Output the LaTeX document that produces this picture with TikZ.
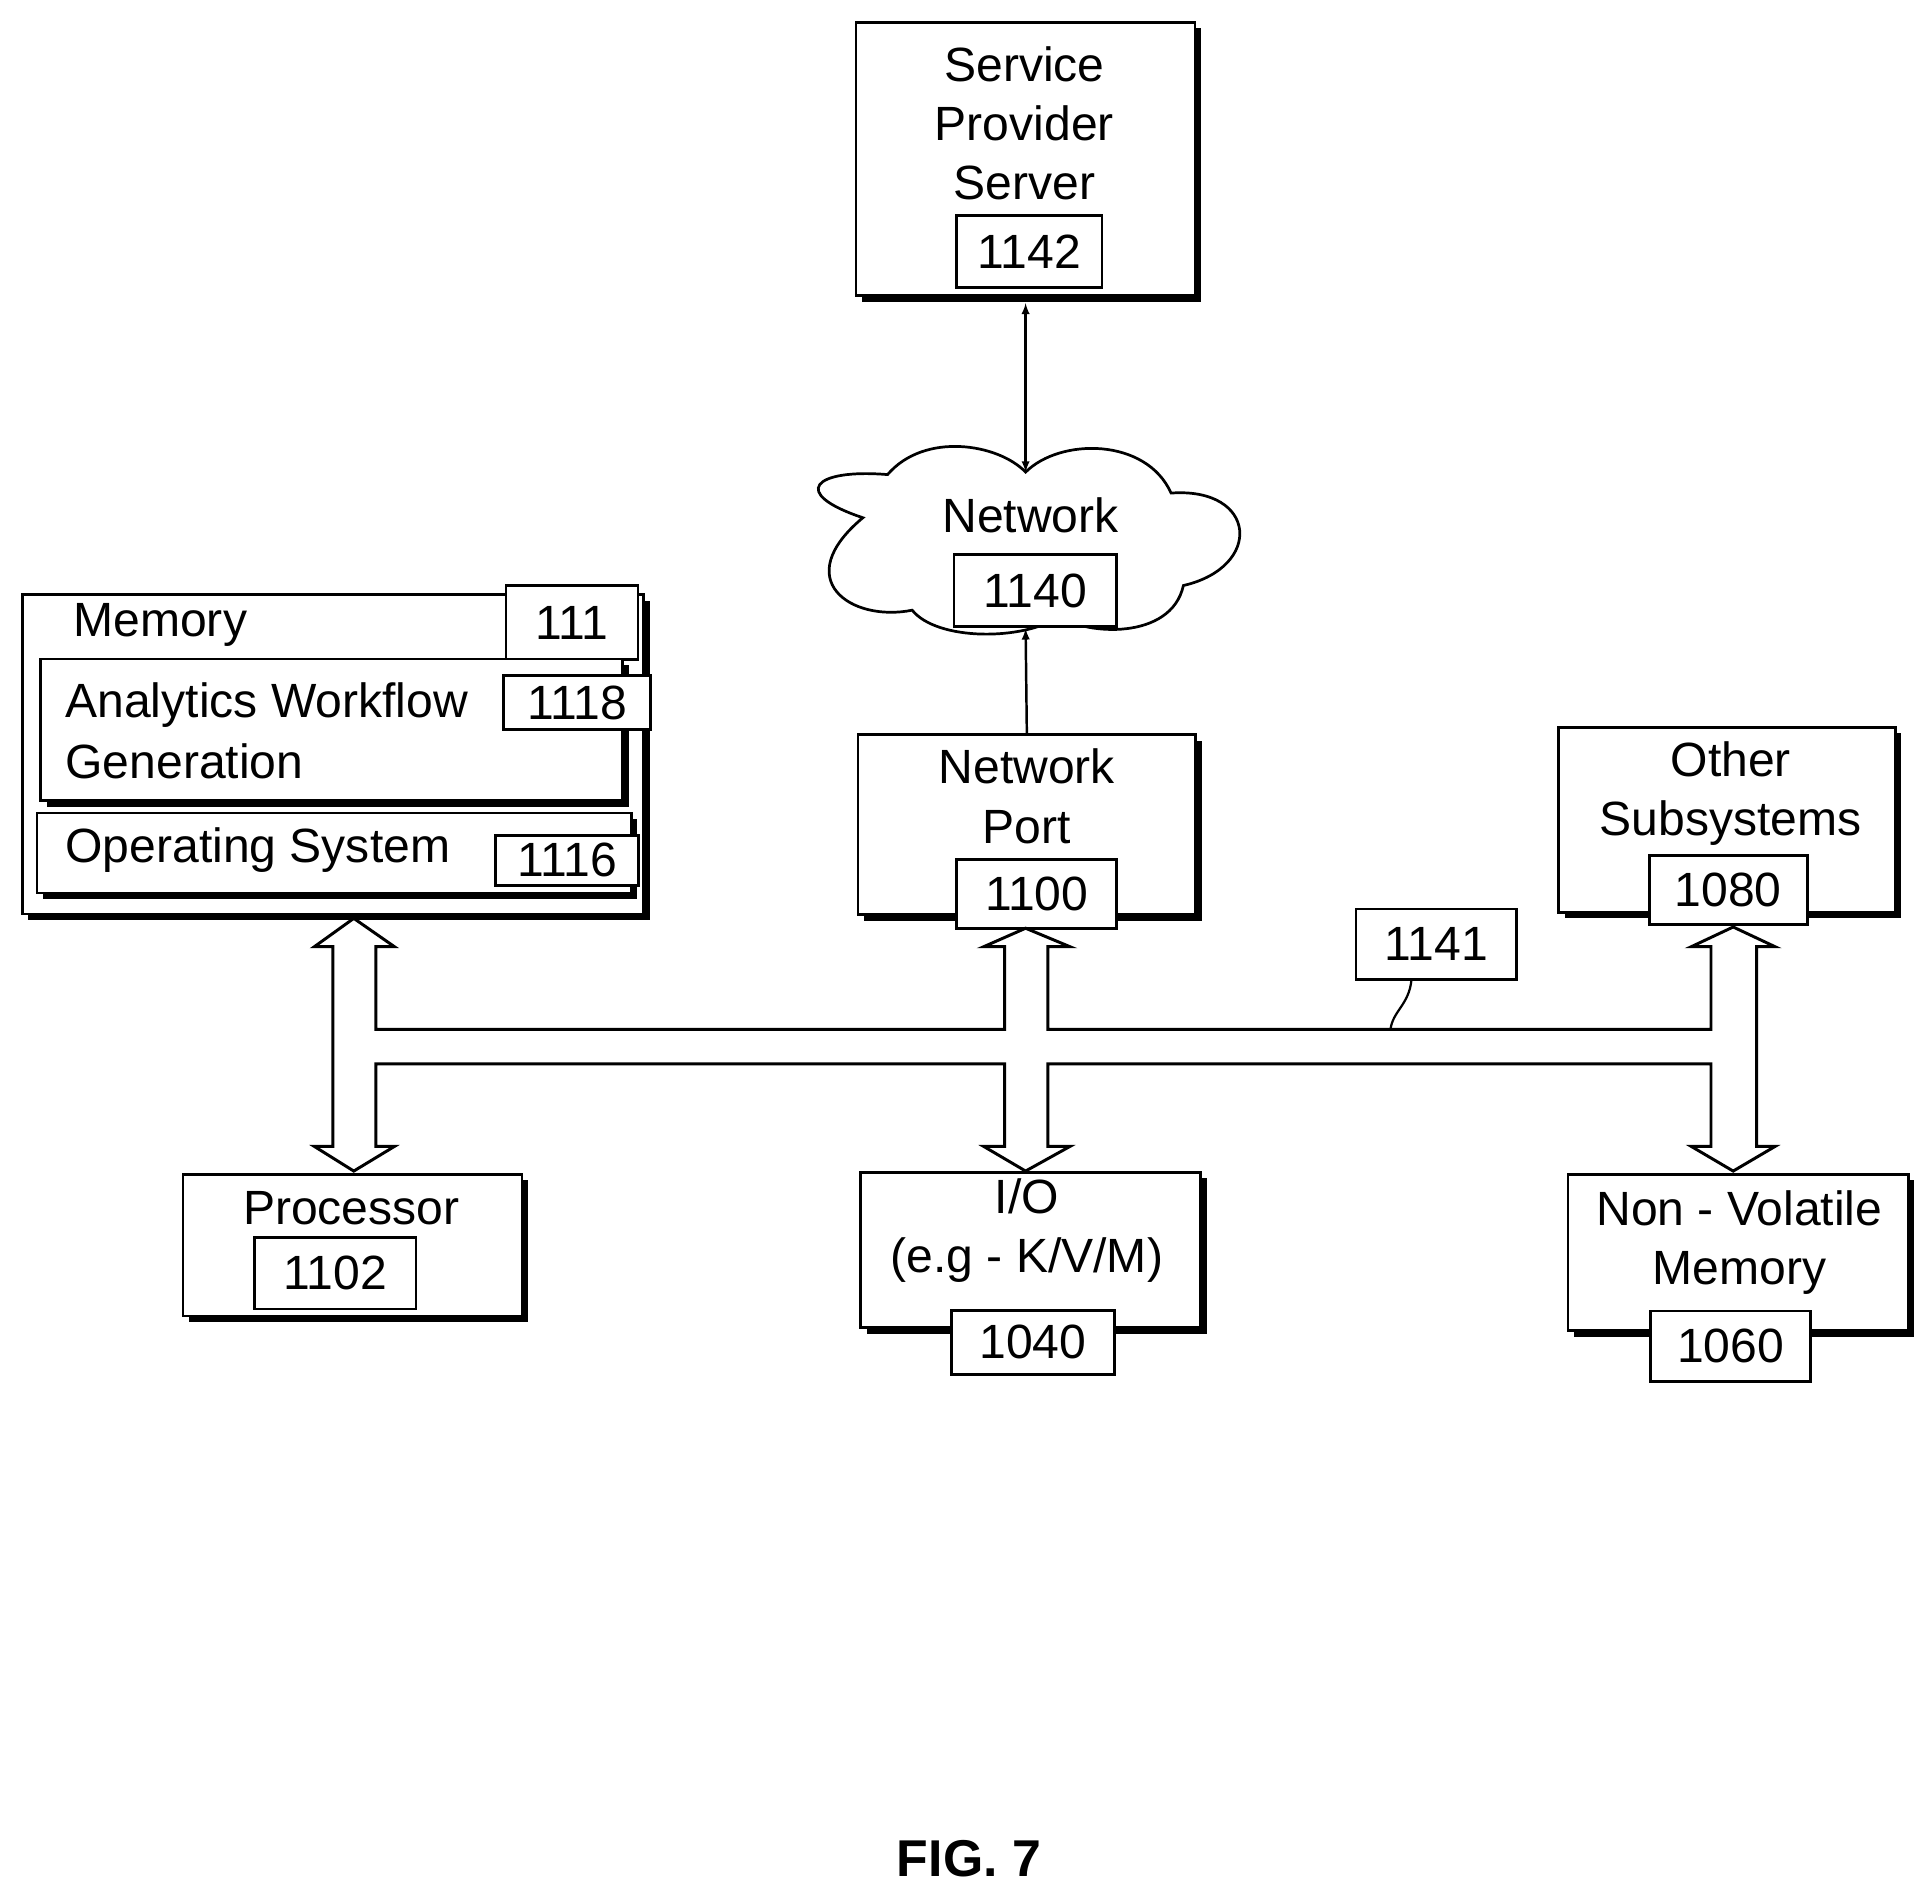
\documentclass[tikz,border=0pt]{standalone}
\usepackage{fontspec}
\setmainfont{Liberation Sans}
\usetikzlibrary{shadows}
\begin{document}
\begin{tikzpicture}[x=1pt,y=-1pt,line width=2.2pt,
  box/.style={draw,fill=white,inner sep=0pt,drop shadow={shadow xshift=5pt,shadow yshift=-5pt,fill=black,opacity=1}},
  nbox/.style={draw,fill=white,inner sep=0pt},
  txt/.style={font=\fontsize{39}{44}\selectfont,inner sep=0pt},
  arr/.style={-latex,line width=2pt}]
\useasboundingbox (0,0) rectangle (1560,1536);
% Server
\node[box,minimum width=275pt,minimum height=222pt] (srv) at (832,129) {};
\node[txt,align=center] (srvt) at (831,100) {Service\\[4pt]Provider\\[4pt]Server};
\node[nbox,txt,minimum width=118pt,minimum height=58pt] (n1142) at (835,204) {1142};
% Network cloud
\draw[fill=white] (700,420) .. controls (640,400) and (660,380) .. (720,385)
  .. controls (750,350) and (810,360) .. (832,383)
  .. controls (860,355) and (930,355) .. (950,400)
  .. controls (1020,395) and (1025,460) .. (960,475)
  .. controls (950,520) and (880,515) .. (860,500)
  .. controls (830,520) and (760,520) .. (740,495)
  .. controls (690,505) and (640,470) .. (700,420) -- cycle;
\coordinate (cloudtop) at (832,383);
\coordinate (cloudbot) at (832,510);
\node[txt] (nett) at (836,418) {Network};
\node[nbox,txt,minimum width=132pt,minimum height=58pt] (n1140) at (840,479) {1140};
\draw[latex-latex,line width=2pt] (832,246) -- (cloudtop);
% Network port
\node[box,minimum width=274pt,minimum height=146pt] (np) at (833,669) {};
\node[txt,align=center] (npt) at (833,646) {Network\\[4pt]Port};
\node[nbox,txt,minimum width=130pt,minimum height=56pt] (n1100) at (841,725) {1100};
\draw[arr] (np.north) -- (cloudbot);
% Other subsystems
\node[box,minimum width=273pt,minimum height=150pt] (os) at (1401,665) {};
\node[txt,align=center] (ost) at (1404,644) {Other\\[4pt]Subsystems};
\node[nbox,txt,minimum width=128pt,minimum height=56pt] (n1080) at (1402,722) {1080};
% Memory
\node[box,minimum width=504pt,minimum height=259pt] (mem) at (270,612) {};
\node[txt] (memt) at (130,507) {Memory};
\node[nbox,txt,minimum width=107pt,minimum height=60pt] (n111) at (464,505) {111};
\node[box,minimum width=472pt,minimum height=115pt] (awg) at (269,592) {};
\node[txt,align=left,anchor=west] (awgt) at (52,593) {Analytics Workflow\\[6pt]Generation};
\node[nbox,txt,minimum width=119pt,minimum height=44pt] (n1118) at (468,570) {1118};
\node[box,minimum width=482pt,minimum height=65pt] (osys) at (271,692) {};
\node[txt,anchor=west] (osyst) at (52,690) {Operating System};
\node[nbox,txt,minimum width=116pt,minimum height=41pt] (n1116) at (460,698) {1116};
% Processor
\node[box,minimum width=275pt,minimum height=115pt] (proc) at (286,1010) {};
\node[txt] (proct) at (285,980) {Processor};
\node[nbox,txt,minimum width=131pt,minimum height=58pt] (n1102) at (272,1033) {1102};
% I/O
\node[box,minimum width=276pt,minimum height=126pt] (io) at (836,1014) {};
\node[txt,align=center] (iot) at (833,998) {I/O\\[4pt](e.g - K/V/M)};
\node[nbox,txt,minimum width=132pt,minimum height=52pt] (n1040) at (838,1089) {1040};
% NVM
\node[box,minimum width=276pt,minimum height=127pt] (nvm) at (1410,1016) {};
\node[txt,align=center] (nvmt) at (1411,1008) {Non - Volatile\\[4pt]Memory};
\node[nbox,txt,minimum width=130pt,minimum height=57pt] (n1060) at (1404,1092) {1060};
% Bus
\draw[fill=white,line width=2.4pt] (305,768) -- (305,835) -- (815,835) -- (815,768) -- (798,768) -- (832,753) -- (868,768) -- (850,768) -- (850,835)
 -- (1388,835) -- (1388,768) -- (1372,768) -- (1406,752) -- (1440,768) -- (1425,768) -- (1425,930) -- (1440,930) -- (1406,950) -- (1372,930) -- (1388,930)
 -- (1388,863) -- (850,863) -- (850,930) -- (868,930) -- (832,950) -- (798,930) -- (815,930) -- (815,863) -- (305,863) -- (305,930) -- (320,930)
 -- (287,950) -- (255,930) -- (270,930) -- (270,768) -- (255,768) -- (287,745) -- (320,768) -- cycle;
% 1141
\node[nbox,txt,minimum width=130pt,minimum height=57pt] (n1141) at (1165,766) {1141};
\coordinate (busmark) at (1128,835);
\coordinate (lead) at (1145,795);
\draw[line width=1.8pt] (lead) .. controls (1143,815) and (1130,820) .. (busmark);
\node[font=\bfseries\fontsize{42}{46}\selectfont] (fig) at (786,1508) {FIG. 7};
\end{tikzpicture}
\end{document}
